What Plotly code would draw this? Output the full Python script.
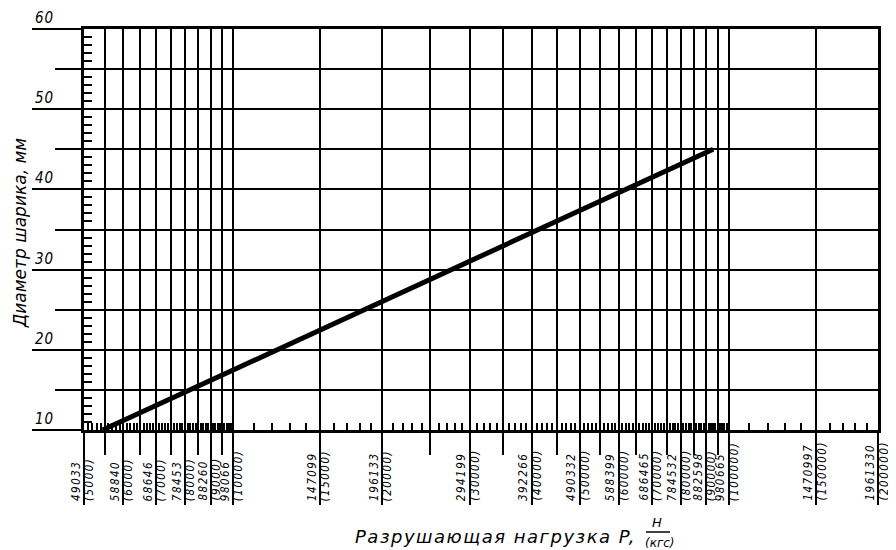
import math
import plotly.graph_objects as go

# ---------------- data ----------------
# thick line: ball diameter (mm) vs breaking load (position on the kgf scale)
load_kgf = [5450, 93000]
diameter_mm = [10, 45]

# labelled vertical lines (kgf) with their newton and kgf labels
major_kgf = [5000, 6000, 7000, 8000, 9000, 10000, 15000, 20000, 30000, 40000,
             50000, 60000, 70000, 80000, 90000, 100000, 150000, 200000]
newton_labels = ["49033", "58840", "68646", "78453", "88260", "98066", "147099",
                 "196133", "294199", "392266", "490332", "588399", "686465",
                 "784532", "882598", "980665", "1470997", "1961330"]
kgf_labels = ["(5000)", "(6000)", "(7000)", "(8000)", "(9000)", "(10000)",
              "(15000)", "(20000)", "(30000)", "(40000)", "(50000)", "(60000)",
              "(70000)", "(80000)", "(90000)", "(100000)", "(150000)", "(200000)"]
# unlabelled intermediate vertical lines (kgf)
half_kgf = [5500, 6500, 7500, 8500, 9500, 25000, 35000, 45000, 55000, 65000,
            75000, 85000, 95000]

# diameter scale
diam_major = [10, 20, 30, 40, 50, 60]
diam_major_labels = ["10", "20", "30", "40", "50", "60"]
diam_half = [15, 25, 35, 45, 55]

# small scale ticks
lines_all = set(major_kgf) | set(half_kgf)
fine_kgf = ([v for v in range(5100, 10000, 100) if v not in lines_all] +
            [v for v in range(11000, 20000, 1000) if v not in lines_all] +
            [v for v in range(21000, 100000, 1000) if v not in lines_all] +
            [v for v in range(110000, 200000, 10000) if v not in lines_all])
fine_diam = [v for v in range(11, 60) if v % 5 != 0]

# ---------------- figure ----------------
OFF = 8                      # page body margin of the browser
VW, VH = 896, 550            # window size
W, H = VW - OFF, VH - OFF    # figure size so that it fits the window
PL, PR, PT, PB = 84, 878, 29, 430   # wanted plot box in window pixels
L, R, T, B = PL - OFF, VW - PR, PT - OFF, VH - PB
pw, ph = W - L - R, H - T - B

def px_x(p):
    return (p - PL) / pw

def px_y(p):
    return (PB - p) / ph

ink = "black"
tick_font = dict(family="DejaVu Sans Condensed, DejaVu Sans, sans-serif", size=11.5, color=ink)
title_font = dict(family="DejaVu Sans, sans-serif", size=17, color=ink)

def spaced(txt, sp):
    return f"<span style='letter-spacing:{sp}px'><i>{txt}</i></span>"

fig = go.Figure()
fig.add_trace(go.Scatter(x=load_kgf, y=diameter_mm, mode="lines",
                         line=dict(color=ink, width=5), hoverinfo="skip",
                         showlegend=False))
# carrier for the overlay scales
fig.add_trace(go.Scatter(x=load_kgf, y=diameter_mm, xaxis="x2", yaxis="y2",
                         mode="lines", line=dict(width=0), hoverinfo="skip",
                         showlegend=False))

xr = [math.log10(major_kgf[0]), math.log10(major_kgf[-1])]
yr = [diam_major[0], diam_major[-1]]

fig.update_layout(
    width=W, height=H,
    margin=dict(l=L, r=R, t=T, b=B, autoexpand=False),
    paper_bgcolor="white", plot_bgcolor="white",
    showlegend=False,
    xaxis=dict(type="log", range=xr, tickmode="array", tickvals=major_kgf,
               showticklabels=False, ticks="outside", ticklen=72, tickwidth=2,
               tickcolor=ink, showgrid=True, gridcolor=ink, gridwidth=2,
               showline=True, linecolor=ink, linewidth=3, mirror=True,
               zeroline=False, fixedrange=True,
               minor=dict(tickmode="array", tickvals=half_kgf, ticks="outside",
                          ticklen=22, tickwidth=2, tickcolor=ink, showgrid=True,
                          gridcolor=ink, gridwidth=2)),
    yaxis=dict(range=yr, tickmode="array", tickvals=diam_major,
               showticklabels=False, ticks="outside", ticklen=49, tickwidth=2,
               tickcolor=ink, showgrid=True, gridcolor=ink, gridwidth=2,
               showline=True, linecolor=ink, linewidth=3, mirror=True,
               zeroline=False, fixedrange=True,
               minor=dict(tickmode="array", tickvals=diam_half, ticks="outside",
                          ticklen=26, tickwidth=2, tickcolor=ink, showgrid=True,
                          gridcolor=ink, gridwidth=2)),
    xaxis2=dict(type="log", range=xr, overlaying="x", anchor="y2", side="bottom",
                tickmode="array", tickvals=fine_kgf, ticks="inside", ticklen=7,
                tickwidth=1.5, tickcolor=ink, showticklabels=False,
                showgrid=False, zeroline=False, showline=False, fixedrange=True),
    yaxis2=dict(range=yr, overlaying="y", anchor="x2", side="left",
                tickmode="array", tickvals=fine_diam, ticks="inside", ticklen=8,
                tickwidth=1.5, tickcolor=ink, showticklabels=False,
                showgrid=False, zeroline=False, showline=False, fixedrange=True),
)

ann = []
label_bottom = px_y(502)
for v, n_lab, k_lab in zip(major_kgf, newton_labels, kgf_labels):
    ann.append(dict(x=math.log10(v), y=label_bottom, xref="x", yref="paper",
                    text=spaced(n_lab, 1.5), textangle=-90, showarrow=False,
                    xanchor="center", yanchor="bottom", xshift=-8,
                    font=tick_font, borderpad=0))
    ann.append(dict(x=math.log10(v), y=label_bottom, xref="x", yref="paper",
                    text=spaced(k_lab, 1.5), textangle=-90, showarrow=False,
                    xanchor="center", yanchor="bottom", xshift=5.5,
                    font=tick_font, borderpad=0))
for v, lab in zip(diam_major, diam_major_labels):
    ann.append(dict(x=px_x(34), y=v, xref="paper", yref="y", text=spaced(lab, 1),
                    showarrow=False, xanchor="left", yanchor="bottom", yshift=1,
                    font=dict(tick_font, size=15), borderpad=0))

# axis titles
ann.append(dict(x=px_x(20), y=px_y(233), xref="paper", yref="paper",
                text="<i>Диаметр шарика, мм</i>", textangle=-90, showarrow=False,
                xanchor="center", yanchor="middle", font=title_font))
ann.append(dict(x=px_x(638), y=px_y(536), xref="paper", yref="paper",
                text=spaced("Разрушающая нагрузка P,", 1.5),
                showarrow=False, xanchor="right", yanchor="middle",
                font=dict(title_font, size=18)))
ann.append(dict(x=px_x(657), y=px_y(522), xref="paper", yref="paper",
                text="<i>Н</i>", showarrow=False, xanchor="center",
                yanchor="middle", font=dict(title_font, size=13)))
ann.append(dict(x=px_x(660), y=px_y(543), xref="paper", yref="paper",
                text="<i>(кгс)</i>", showarrow=False, xanchor="center",
                yanchor="middle", font=dict(title_font, size=12)))
fig.update_layout(annotations=ann)

fig.add_shape(type="line", xref="paper", yref="paper",
              x0=px_x(646), x1=px_x(670), y0=px_y(532), y1=px_y(532),
              line=dict(color=ink, width=1.5))

fig.write_html("out.html")
